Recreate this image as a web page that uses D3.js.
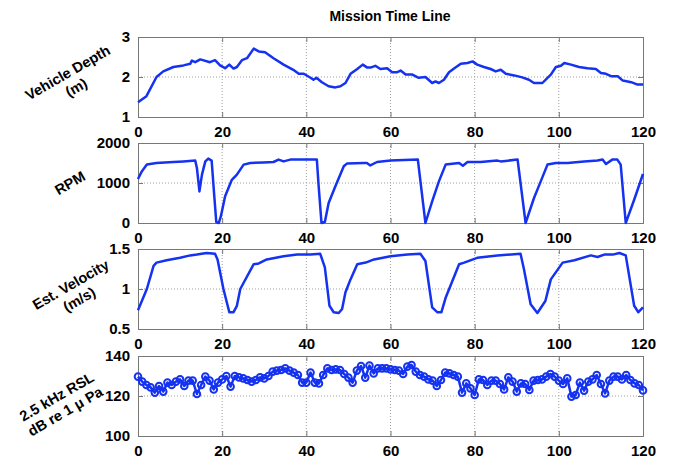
<!DOCTYPE html>
<html>
<head>
<meta charset="utf-8">
<script src="https://cdn.jsdelivr.net/npm/d3@7"></script>
<style>
  body { margin: 0; background: #fff; }
  text { font-family: 'Liberation Sans', Arial, sans-serif; font-weight: bold; fill: #000; }
</style>
</head>
<body>
<svg id="chart"></svg>
<script>
// x axis ticks (seconds)
const timeTicks = [0, 20, 40, 60, 80, 100, 120];

// Vehicle depth (m)
const depthTime = [0, 2, 4.4, 6, 8.4, 10.8, 12.4, 12.8, 13.6, 14.8, 17.1, 18.3, 19.5, 20.7, 21.7, 22.7, 23.5, 24.7, 25.9, 27.5, 28.7, 30.2, 32.2, 34.6, 36.9, 38.2, 39.4, 41, 41.7, 42.4, 43.7, 45.3, 46.9, 48.1, 49.3, 50.5, 52.1, 53.4, 54.4, 55.4, 56.4, 57.6, 59.2, 60.4, 61.6, 62.4, 63.6, 65.2, 66.7, 68.3, 69.9, 70.7, 71.5, 72.7, 73.9, 75.1, 76.7, 78.3, 79.5, 80.6, 82.2, 83.8, 85, 86.2, 87.4, 89.4, 91.3, 92.9, 94.1, 96.1, 97.3, 98.1, 99.3, 100.5, 101.3, 102.9, 104.8, 106.8, 108.8, 110, 111.2, 112.4, 114, 115.2, 117.2, 118.7, 120];
const depthValue = [1.37, 1.52, 2.0, 2.14, 2.25, 2.29, 2.33, 2.41, 2.37, 2.44, 2.37, 2.42, 2.29, 2.22, 2.31, 2.21, 2.25, 2.42, 2.47, 2.71, 2.64, 2.62, 2.47, 2.31, 2.18, 2.08, 2.08, 1.98, 1.93, 1.98, 1.87, 1.77, 1.74, 1.77, 1.85, 2.08, 2.2, 2.31, 2.24, 2.24, 2.28, 2.2, 2.22, 2.12, 2.12, 2.16, 2.06, 2.06, 1.98, 2.0, 1.85, 1.89, 1.85, 1.93, 2.12, 2.21, 2.33, 2.35, 2.39, 2.31, 2.25, 2.2, 2.14, 2.18, 2.08, 2.04, 1.99, 1.93, 1.85, 1.85, 1.98, 2.06, 2.25, 2.28, 2.35, 2.31, 2.25, 2.22, 2.2, 2.1, 2.08, 2.02, 2.02, 1.91, 1.87, 1.81, 1.81];

// Propeller RPM
const rpmTime = [0, 0.9, 2.1, 4.4, 8.4, 10.8, 13.6, 14, 14.6, 15.2, 16, 16.7, 17.5, 18.1, 18.6, 19.2, 19.7, 20.7, 22.3, 23.5, 25.1, 26.7, 29.8, 32.2, 33.4, 34.6, 36.2, 42.5, 42.9, 43.6, 44.4, 45.3, 46.9, 48.9, 49.7, 53.7, 54.4, 55.2, 56.8, 60, 66.5, 68.3, 69.9, 71.5, 73.1, 76.3, 77.2, 78.3, 81.4, 85.4, 86.2, 90.2, 92.1, 94.1, 95.7, 97.3, 99.3, 102.1, 106, 109.2, 110.4, 111.2, 112.7, 113.9, 114.7, 115.9, 117.9, 120];
const rpmValue = [1100, 1290, 1460, 1500, 1525, 1540, 1560, 1375, 790, 1210, 1540, 1610, 1560, 710, 25, 0, 170, 670, 1080, 1210, 1460, 1500, 1515, 1525, 1585, 1540, 1585, 1585, 960, 0, 25, 500, 920, 1420, 1490, 1500, 1500, 1440, 1525, 1560, 1585, 0, 540, 1040, 1460, 1500, 1430, 1525, 1525, 1560, 1540, 1585, 0, 625, 1040, 1460, 1500, 1500, 1540, 1560, 1585, 1475, 1585, 1585, 1460, 0, 580, 1225];

// Estimated velocity (m/s)
const velTime = [0, 2.1, 3.7, 4.4, 6.8, 10, 12.4, 14, 16.3, 18.3, 18.9, 20.3, 21.7, 22.7, 23.5, 24.3, 27.5, 28.7, 30.6, 34.6, 37.8, 41, 43.3, 44.4, 45.5, 46.5, 47.7, 48.5, 49.3, 50.5, 52.1, 54.1, 56.1, 60, 64, 67.1, 68.3, 69.9, 71.1, 72.1, 73.1, 76.3, 77.5, 80.6, 85.4, 90.9, 91.7, 93.3, 94.9, 96.8, 98.1, 100.9, 103.7, 107.6, 109.2, 110.8, 112.8, 114.4, 115.9, 117.9, 118.9, 120];
const velValue = [0.735, 1.0, 1.29, 1.33, 1.36, 1.39, 1.42, 1.43, 1.45, 1.44, 1.37, 1.0, 0.71, 0.71, 0.79, 1.0, 1.31, 1.32, 1.37, 1.41, 1.43, 1.43, 1.44, 1.27, 0.79, 0.71, 0.7, 0.75, 0.96, 1.12, 1.31, 1.33, 1.37, 1.41, 1.43, 1.44, 1.35, 0.77, 0.71, 0.71, 0.89, 1.31, 1.33, 1.39, 1.42, 1.44, 1.25, 0.81, 0.7, 0.85, 1.12, 1.33, 1.36, 1.42, 1.4, 1.43, 1.43, 1.45, 1.42, 0.79, 0.71, 0.77];

// 2.5 kHz received signal level, one sample per second
const rslTime = [0, 1, 2, 3, 4, 5, 6, 7, 8, 9, 10, 11, 12, 13, 14, 15, 16, 17, 18, 19, 20, 21, 22, 23, 24, 25, 26, 27, 28, 29, 30, 31, 32, 33, 34, 35, 36, 37, 38, 39, 40, 41, 42, 43, 44, 45, 46, 47, 48, 49, 50, 51, 52, 53, 54, 55, 56, 57, 58, 59, 60, 61, 62, 63, 64, 65, 66, 67, 68, 69, 70, 71, 72, 73, 74, 75, 76, 77, 78, 79, 80, 81, 82, 83, 84, 85, 86, 87, 88, 89, 90, 91, 92, 93, 94, 95, 96, 97, 98, 99, 100, 101, 102, 103, 104, 105, 106, 107, 108, 109, 110, 111, 112, 113, 114, 115, 116, 117, 118, 119, 120];
const rslValue = [129.7, 127.2, 125.5, 124.3, 121.7, 125, 122.2, 126.7, 125.5, 127.2, 128.3, 125, 127.7, 127.7, 121, 125.5, 129.7, 127.7, 123.3, 126.7, 128.3, 130, 124.7, 130, 129.3, 128.8, 128, 127.2, 128, 129.3, 128.8, 130, 132.2, 132.7, 133, 133.8, 132.7, 131.7, 130.5, 126.7, 126.7, 131.7, 126.7, 126.3, 130.5, 133.8, 133, 133.3, 133, 131, 129.2, 126.7, 132.7, 135, 129.2, 135.2, 131.3, 133.8, 133.8, 133.8, 133.3, 133, 132.7, 131, 134.7, 135.5, 132.2, 130.5, 129.7, 128.3, 127.7, 125, 128, 131.7, 131.3, 130.5, 129.7, 121.7, 126.3, 123.8, 120.5, 128.3, 128, 125.5, 127.7, 127.7, 126, 123.3, 129.3, 127.2, 122.2, 126.3, 126, 123, 127.7, 128, 128.3, 129.7, 131, 129.7, 127.7, 126, 128.8, 119.7, 120.5, 126.7, 122.7, 127.2, 128.3, 130.5, 126, 121.3, 127.7, 129.7, 129.7, 128.3, 130.5, 128, 126.3, 125.5, 122.8];

const width = 673, height = 461;
const plotLeft = 138, plotRight = 643;
const blue = '#1432f0';

const panels = [
  { top: 37, label: ['Vehicle Depth', '(m)'], labelPos: [72, 80], domain: [1, 3], ticks: [1, 2, 3], times: depthTime, values: depthValue },
  { top: 143, label: ['RPM'], labelPos: [70, 183], domain: [0, 2000], ticks: [0, 1000, 2000], times: rpmTime, values: rpmValue },
  { top: 249, label: ['Est. Velocity', '(m/s)'], labelPos: [75, 292], domain: [0.5, 1.5], ticks: [0.5, 1, 1.5], times: velTime, values: velValue },
  { top: 356, label: ['2.5 kHz RSL', 'dB re 1 \u03BC Pa'], labelPos: [61, 404], domain: [100, 140], ticks: [100, 120, 140], times: rslTime, values: rslValue, markers: true }
];
const panelHeight = 80;

const svg = d3.select('#chart').attr('width', width).attr('height', height);

svg.append('text')
  .attr('x', 390).attr('y', 21)
  .attr('text-anchor', 'middle')
  .style('font-size', '14px')
  .text('Mission Time Line');

const x = d3.scaleLinear().domain([0, 120]).range([plotLeft, plotRight]);

panels.forEach((p) => {
  const y = d3.scaleLinear().domain(p.domain).range([p.top + panelHeight, p.top]);
  const g = svg.append('g');

  // grid
  g.selectAll('.vgrid').data(timeTicks.slice(1, -1)).enter().append('line')
    .attr('x1', (d) => x(d)).attr('x2', (d) => x(d))
    .attr('y1', p.top).attr('y2', p.top + panelHeight)
    .attr('stroke', '#a0a0a0').attr('stroke-dasharray', '1,2');
  g.selectAll('.hgrid').data(p.ticks.slice(1, -1)).enter().append('line')
    .attr('x1', plotLeft).attr('x2', plotRight)
    .attr('y1', (d) => y(d)).attr('y2', (d) => y(d))
    .attr('stroke', '#a0a0a0').attr('stroke-dasharray', '1,2');

  // axes with inward ticks
  const fmt = (d) => String(d);
  const axB = g.append('g').attr('transform', 'translate(0,' + (p.top + panelHeight) + ')')
    .call(d3.axisBottom(x).tickValues(timeTicks).tickSize(-5).tickPadding(8).tickFormat(fmt));
  const axT = g.append('g').attr('transform', 'translate(0,' + p.top + ')')
    .call(d3.axisTop(x).tickValues(timeTicks).tickSize(-5).tickFormat(''));
  const axL = g.append('g').attr('transform', 'translate(' + plotLeft + ',0)')
    .call(d3.axisLeft(y).tickValues(p.ticks).tickSize(-5).tickPadding(8).tickFormat(fmt));
  const axR = g.append('g').attr('transform', 'translate(' + plotRight + ',0)')
    .call(d3.axisRight(y).tickValues(p.ticks).tickSize(-5).tickFormat(''));
  [axB, axT, axL, axR].forEach((a) => {
    a.select('.domain').attr('stroke', '#777');
    a.selectAll('.tick line').attr('stroke', '#777');
    a.selectAll('text').style('font-size', '15px').style('font-family', "'Liberation Sans', Arial, sans-serif").style('font-weight', 'bold').attr('fill', '#000');
  });
  axB.selectAll('text').attr('dy', '0.8em');

  // data
  const pts = p.times.map((t, i) => [t, p.values[i]]);
  const line = d3.line().x((d) => x(d[0])).y((d) => y(d[1]));
  g.append('path')
    .datum(pts)
    .attr('fill', 'none')
    .attr('stroke', blue)
    .attr('stroke-width', 2.5)
    .attr('stroke-linejoin', 'round')
    .attr('d', line);
  if (p.markers) {
    g.selectAll('.mk').data(pts).enter().append('circle')
      .attr('cx', (d) => x(d[0])).attr('cy', (d) => y(d[1]))
      .attr('r', 3.3)
      .attr('fill', 'none')
      .attr('stroke', blue)
      .attr('stroke-width', 2);
  }

  // y label, rotated
  const lab = svg.append('text')
    .attr('transform', 'translate(' + p.labelPos[0] + ',' + p.labelPos[1] + ') rotate(-30)')
    .attr('text-anchor', 'middle')
    .style('font-size', '14.5px');
  const n = p.label.length;
  p.label.forEach((s, i) => {
    lab.append('tspan')
      .attr('x', 0)
      .attr('y', (i - (n - 1) / 2) * 17 + 5)
      .text(s);
  });
});
</script>
</body>
</html>
